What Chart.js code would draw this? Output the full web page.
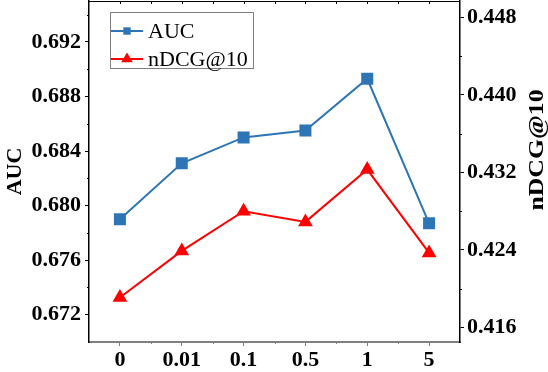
<!DOCTYPE html>
<html>
<head>
<meta charset="utf-8">
<script src="https://cdn.jsdelivr.net/npm/chart.js@4"></script>
<style>
  html, body { margin: 0; padding: 0; background: #fff; }
  #c { display: block; }
</style>
</head>
<body>
<canvas id="c" width="548" height="372"></canvas>
<script>
const categories = ['0', '0.01', '0.1', '0.5', '1', '5'];
const aucValues = [0.6790, 0.6831, 0.6850, 0.6855, 0.6893, 0.6787];
const ndcgValues = [0.4191, 0.4239, 0.4280, 0.4269, 0.4323, 0.4237];
const aucTicks = [0.672, 0.676, 0.680, 0.684, 0.688, 0.692];
const ndcgTicks = [0.416, 0.424, 0.432, 0.440, 0.448];

const SERIF = '"Liberation Serif", "Times New Roman", serif';
const BLUE = '#2e75b6';
const RED = '#ff0000';

// minor ticks, top frame, right axis title (reads upward) and the boxed legend
const decorations = {
  id: 'decorations',
  afterDraw(chart) {
    const ctx = chart.ctx;
    const { left, right, top, bottom } = chart.chartArea;
    const x = chart.scales.x, y = chart.scales.y, y1 = chart.scales.y1;
    ctx.save();

    // top frame with inward ticks
    ctx.strokeStyle = '#000';
    ctx.lineWidth = 1;
    ctx.beginPath();
    ctx.moveTo(left, top + 0.5);
    ctx.lineTo(right, top + 0.5);
    for (let i = 0; i <= categories.length * 2; i++) {
      const px = Math.round(x.getPixelForValue(i / 2 - 0.5)) + 0.5;
      if (px <= left + 1 || px >= right - 1) continue;
      ctx.moveTo(px, top);
      ctx.lineTo(px, top + 3);
    }
    ctx.stroke();

    // bottom minor ticks
    ctx.strokeStyle = '#808080';
    ctx.beginPath();
    for (let i = 0; i < categories.length - 1; i++) {
      const px = Math.round(x.getPixelForValue(i + 0.5)) + 0.5;
      ctx.moveTo(px, bottom);
      ctx.lineTo(px, bottom + 2);
    }
    ctx.stroke();

    // left / right minor ticks
    ctx.strokeStyle = '#000';
    ctx.beginPath();
    const aStep = aucTicks[1] - aucTicks[0];
    [aucTicks[0] - aStep / 2, ...aucTicks.map(v => v + aStep / 2)].forEach(v => {
      if (v <= y.min || v >= y.max) return;
      const py = Math.round(y.getPixelForValue(v)) + 0.5;
      ctx.moveTo(left, py);
      ctx.lineTo(left - 2, py);
    });
    const nStep = ndcgTicks[1] - ndcgTicks[0];
    [ndcgTicks[0] - nStep / 2, ...ndcgTicks.map(v => v + nStep / 2)].forEach(v => {
      if (v <= y1.min || v >= y1.max) return;
      const py = Math.round(y1.getPixelForValue(v)) + 0.5;
      ctx.moveTo(right, py);
      ctx.lineTo(right + 2, py);
    });
    ctx.stroke();

    // right axis title (a bit stretched along its length, like the original)
    ctx.fillStyle = '#000';
    ctx.font = 'bold 22px ' + SERIF;
    ctx.textAlign = 'center';
    ctx.textBaseline = 'middle';
    ctx.translate(537, 150);
    ctx.rotate(-Math.PI / 2);
    ctx.scale(1.17, 1);
    ctx.fillText('nDCG@10', 0, 0);
    ctx.setTransform(1, 0, 0, 1, 0, 0);

    // legend
    ctx.strokeStyle = '#808080';
    ctx.strokeRect(110.5, 12.5, 143, 56);
    ctx.font = '22px ' + SERIF;
    ctx.textAlign = 'left';
    chart.data.datasets.forEach((ds, i) => {
      const cy = 31 + i * 28;
      ctx.strokeStyle = ds.borderColor;
      ctx.lineWidth = 2;
      ctx.beginPath();
      ctx.moveTo(111, cy);
      ctx.lineTo(143, cy);
      ctx.stroke();
      ctx.fillStyle = ds.backgroundColor;
      ctx.beginPath();
      if (ds.pointStyle === 'rect') {
        ctx.rect(127 - 3.7, cy - 3.7, 7.4, 7.4);
      } else {
        ctx.moveTo(127, cy - 6.5);
        ctx.lineTo(127 + 5.8, cy + 3.3);
        ctx.lineTo(127 - 5.8, cy + 3.3);
        ctx.closePath();
      }
      ctx.fill();
      ctx.fillStyle = '#000';
      ctx.fillText(ds.label, 148, cy + 1);
    });
    ctx.restore();
  }
};

const tickFont = { family: SERIF, size: 22, weight: 'bold' };

// the y tick labels are not at the ends, so no label overhang is needed
function noOverhang(s) {
  s.paddingTop = 0;
  s.paddingBottom = 0;
}

new Chart(document.getElementById('c'), {
  type: 'line',
  data: {
    labels: categories,
    datasets: [
      {
        label: 'AUC',
        data: aucValues,
        yAxisID: 'y',
        borderColor: BLUE,
        backgroundColor: BLUE,
        borderWidth: 2,
        pointStyle: 'rect',
        pointRadius: 8.5,
        pointBorderWidth: 0,
        tension: 0
      },
      {
        label: 'nDCG@10',
        data: ndcgValues,
        yAxisID: 'y1',
        borderColor: RED,
        backgroundColor: RED,
        borderWidth: 2,
        pointStyle: 'triangle',
        pointRadius: 8.5,
        pointBorderWidth: 0,
        tension: 0
      }
    ]
  },
  options: {
    responsive: false,
    animation: false,
    devicePixelRatio: 1,
    layout: { autoPadding: false, padding: { top: 1, left: 0, right: 0, bottom: 0 } },
    plugins: { legend: { display: false }, tooltip: { enabled: false } },
    scales: {
      x: {
        type: 'category',
        offset: true,
        grid: { drawOnChartArea: false, offset: false, tickLength: 4, color: '#808080' },
        border: { color: '#808080', width: 2 },
        ticks: { font: tickFont, color: '#000', maxRotation: 0, autoSkip: false, padding: 1 },
        afterFit(s) { s.height = 30; }
      },
      y: {
        position: 'left',
        min: 0.670,
        max: 0.695,
        afterBuildTicks(s) { s.ticks = aucTicks.map(v => ({ value: v })); },
        ticks: { font: tickFont, color: '#000', padding: 4, callback: v => v.toFixed(3) },
        grid: { drawOnChartArea: false, tickLength: 4, color: '#000' },
        border: { color: '#000', width: 1.5 },
        title: {
          display: true,
          text: 'AUC',
          color: '#000',
          font: { family: SERIF, size: 22, weight: 'bold', lineHeight: 1 },
          padding: { top: 4, bottom: 0 }
        },
        afterFit(s) { s.width = 89; noOverhang(s); }
      },
      y1: {
        position: 'right',
        min: 0.4145,
        max: 0.4497,
        afterBuildTicks(s) { s.ticks = ndcgTicks.map(v => ({ value: v })); },
        ticks: { font: tickFont, color: '#000', padding: 3, callback: v => v.toFixed(3) },
        grid: { drawOnChartArea: false, tickLength: 4, color: '#000' },
        border: { color: '#000', width: 1.5 },
        afterFit(s) { s.width = 88; noOverhang(s); }
      }
    }
  },
  plugins: [decorations]
});
</script>
</body>
</html>
